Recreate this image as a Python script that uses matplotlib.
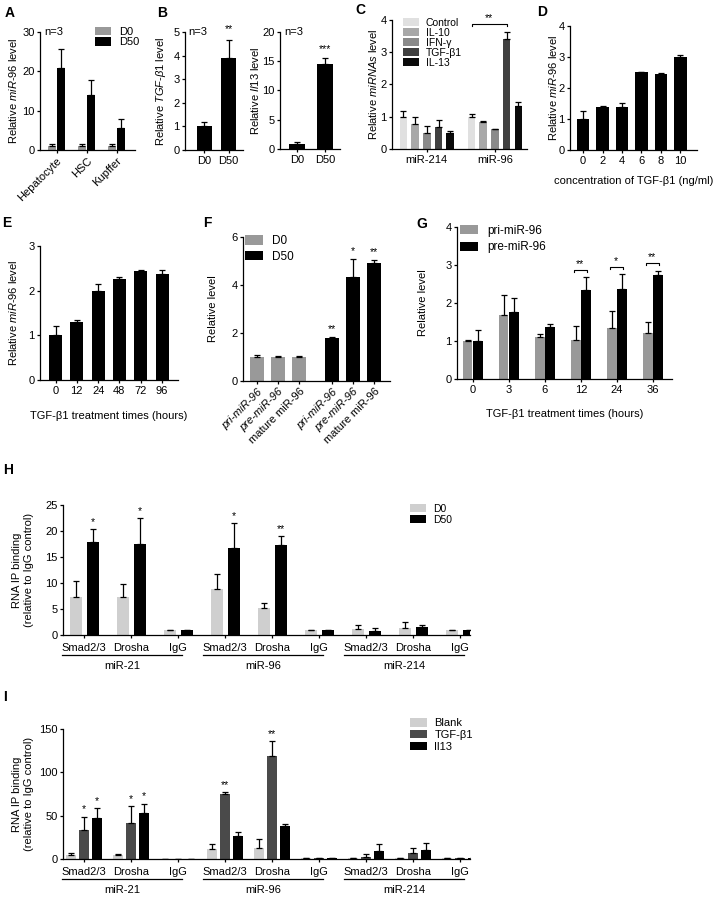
import numpy as np
import matplotlib
matplotlib.use("Agg")
import matplotlib.pyplot as plt
from matplotlib.transforms import blended_transform_factory

plt.rcParams['font.family'] = ['Liberation Sans', 'DejaVu Sans']
plt.rcParams['mathtext.fontset'] = 'custom'
plt.rcParams['mathtext.rm'] = 'Liberation Sans'
plt.rcParams['mathtext.it'] = 'Liberation Sans:italic'
plt.rcParams['font.size'] = 8
plt.rcParams['axes.linewidth'] = 0.9

W, H = 717, 897
LIGHT = '#cfcfcf'
MID = '#999999'
DARK = '#4a4a4a'

# ---- A: miR-96 in liver cell types ----
a_cells = ["Hepatocyte", "HSC", "Kupffer"]
a_d0 = [1.0, 1.0, 1.0]
a_d0_err = [0.5, 0.5, 0.4]
a_d50 = [20.8, 14.1, 5.6]
a_d50_err = [4.9, 3.8, 2.2]

# ---- B: TGF-b1 and Il13 ----
b_groups = ["D0", "D50"]
b_tgf = [1.0, 3.9]
b_tgf_err = [0.2, 0.75]
b_il13 = [0.9, 14.5]
b_il13_err = [0.35, 1.1]

# ---- C: cytokine treatment ----
c_groups = ["miR-214", "miR-96"]
c_treat = ["Control", "IL-10", "IFN-γ", "TGF-β1", "IL-13"]
c_control = [1.0, 1.0]
c_control_err = [0.17, 0.09]
c_il10 = [0.78, 0.85]
c_il10_err = [0.21, 0.02]
c_ifng = [0.49, 0.61]
c_ifng_err = [0.23, 0.02]
c_tgf = [0.68, 3.42]
c_tgf_err = [0.22, 0.22]
c_il13 = [0.5, 1.32]
c_il13_err = [0.05, 0.15]
c_colors = ['#e0e0e0', '#a8a8a8', '#8a8a8a', '#404040', '#0a0a0a']

# ---- D: TGF-b1 dose ----
d_conc = ["0", "2", "4", "6", "8", "10"]
d_vals = [1.0, 1.38, 1.4, 2.5, 2.45, 3.0]
d_err = [0.27, 0.03, 0.1, 0.03, 0.03, 0.07]

# ---- E: TGF-b1 time course ----
e_times = ["0", "12", "24", "48", "72", "96"]
e_vals = [1.0, 1.3, 2.0, 2.27, 2.45, 2.38]
e_err = [0.2, 0.05, 0.15, 0.03, 0.02, 0.09]

# ---- F: miR-96 forms ----
f_forms = ["pri-miR-96", "pre-miR-96", "mature miR-96"]
f_d0 = [1.0, 1.0, 1.0]
f_d0_err = [0.1, 0.03, 0.06]
f_d50 = [1.8, 4.35, 4.9]
f_d50_err = [0.04, 0.75, 0.16]
f_stars = ["**", "*", "**"]

# ---- G: pri/pre time course ----
g_times = ["0", "3", "6", "12", "24", "36"]
g_pri = [1.0, 1.68, 1.1, 1.03, 1.35, 1.22]
g_pri_err = [0.03, 0.52, 0.08, 0.36, 0.43, 0.27]
g_pre = [1.0, 1.75, 1.37, 2.33, 2.37, 2.73]
g_pre_err = [0.3, 0.38, 0.08, 0.35, 0.38, 0.12]
g_sig_idx = [3, 4, 5]
g_sig_h = [2.87, 2.95, 3.05]
g_sig = ["**", "*", "**"]

# ---- H / I: RNA IP ----
rip_ab = ["Smad2/3", "Drosha", "IgG"]
rip_mir = ["miR-21", "miR-96", "miR-214"]
h_d0 = [7.4, 7.4, 1.0, 8.8, 5.1, 1.0, 1.1, 1.35, 1.0]
h_d0_err = [2.9, 2.4, 0, 2.9, 1.1, 0, 0.8, 1.2, 0]
h_d50 = [17.8, 17.5, 1.0, 16.7, 17.4, 1.0, 0.8, 1.5, 1.0]
h_d50_err = [2.5, 5.0, 0, 4.9, 1.6, 0, 0.5, 0.4, 0]
h_stars = ["*", "*", "", "*", "**", "", "", "", ""]

i_blank = [5.0, 5.0, 0.5, 12.0, 13.0, 1.0, 0.8, 0.8, 0.8]
i_blank_err = [1.5, 1.0, 0, 5.0, 10.0, 0, 0, 0, 0]
i_tgf = [33.0, 41.0, 0.5, 75.0, 119.0, 1.0, 2.5, 7.0, 0.8]
i_tgf_err = [16.0, 20.0, 0, 2.5, 17.0, 0, 3.0, 6.0, 0]
i_il13 = [47.0, 53.0, 0.5, 26.0, 38.0, 1.0, 9.0, 10.0, 0.8]
i_il13_err = [12.0, 11.0, 0, 5.0, 2.0, 0, 8.0, 8.0, 0]
i_tgf_stars = ["*", "*", "", "**", "**", "", "", "", ""]
i_il13_stars = ["*", "*", "", "", "", "", "", "", ""]

fig = plt.figure(figsize=(W / 100, H / 100), dpi=100)


def add_ax(left, top, right, bottom):
    ax = fig.add_axes([left / W, 1 - bottom / H, (right - left) / W, (bottom - top) / H])
    ax.spines['top'].set_visible(False)
    ax.spines['right'].set_visible(False)
    ax.tick_params(direction='out', length=2.5, width=0.9, pad=1.5, labelsize=8)
    return ax


def err_bars(ax, x, vals, err, color, width, label=None):
    ax.bar(x, vals, width, color=color, label=label, zorder=2)
    ax.errorbar(x, vals, yerr=[np.zeros(len(vals)), err], fmt='none', ecolor='black',
                elinewidth=0.9, capsize=2.3, capthick=0.9, zorder=3)


def stars(ax, x, vals, err, marks, dy, fs=7.5):
    for xi, v, e, m in zip(x, vals, err, marks):
        if m:
            ax.text(xi, v + e + dy, m, ha='center', va='bottom', fontsize=fs, clip_on=False)


def fig_text(x, y, s, **kw):
    fig.text(x / W, 1 - y / H, s, **kw)


def ylabel_at(ax, s, xpx):
    ax.set_ylabel(s, fontsize=8)
    bb = ax.get_position()
    ax.yaxis.set_label_coords((xpx / W - bb.x0) / bb.width, 0.5)


def legend_at(ax, x, y, spacing, fs=8, hl=1.4, hh=0.8, pad=0.8):
    ax.legend(loc='upper left', bbox_to_anchor=(x / W, 1 - y / H), bbox_transform=fig.transFigure,
              frameon=False, borderpad=0, borderaxespad=0, handlelength=hl, handleheight=hh,
              handletextpad=pad, labelspacing=spacing, fontsize=fs)


# ---------------- A ----------------
ax = add_ax(40, 32, 135, 150)
xa = np.arange(len(a_cells))
err_bars(ax, xa - 0.15, a_d0, a_d0_err, MID, 0.27, 'D0')
err_bars(ax, xa + 0.15, a_d50, a_d50_err, 'black', 0.27, 'D50')
ax.set_xlim(-0.55, 2.6)
ax.set_ylim(0, 30)
ax.set_yticks([0, 10, 20, 30])
ax.set_xticks(xa)
ax.set_xticklabels(a_cells, rotation=45, ha='right', rotation_mode='anchor')
ylabel_at(ax, r'Relative $\mathit{miR}$-$\mathit{96}$ level', 19)
legend_at(ax, 95, 27, 0.0)
fig_text(44, 32, 'n=3', ha='left', va='center', fontsize=8)

# ---------------- B ----------------
ax = add_ax(185, 32, 243, 150)
xb = np.arange(len(b_groups))
err_bars(ax, xb, b_tgf, b_tgf_err, 'black', 0.62)
ax.set_xlim(-0.8, 1.6)
ax.set_ylim(0, 5)
ax.set_xticks(xb)
ax.set_xticklabels(b_groups)
ylabel_at(ax, r'Relative $\mathit{TGF}$-$\mathit{\beta 1}$ level', 168)
stars(ax, xb, b_tgf, b_tgf_err, ["", "**"], 0.25)
fig_text(188, 32, 'n=3', ha='left', va='center', fontsize=8)

ax = add_ax(280, 32, 340, 149)
err_bars(ax, xb, b_il13, b_il13_err, 'black', 0.55)
ax.set_xlim(-0.6, 1.53)
ax.set_ylim(0, 20)
ax.set_yticks([0, 5, 10, 15, 20])
ax.set_xticks(xb)
ax.set_xticklabels(b_groups)
ylabel_at(ax, r'Relative $\mathit{Il13}$ level', 261)
stars(ax, xb, b_il13, b_il13_err, ["", "***"], 0.6)
fig_text(284, 32, 'n=3', ha='left', va='center', fontsize=8)

# ---------------- C ----------------
ax = add_ax(392, 20, 527, 149)
xc = np.arange(len(c_groups))
c_series = [(c_control, c_control_err), (c_il10, c_il10_err), (c_ifng, c_ifng_err),
            (c_tgf, c_tgf_err), (c_il13, c_il13_err)]
for k, (vals, err) in enumerate(c_series):
    err_bars(ax, xc + (k - 2) * 0.172, vals, err, c_colors[k], 0.11, c_treat[k])
ax.set_xlim(-0.51, 1.47)
ax.set_ylim(0, 4)
ax.set_xticks(xc)
ax.set_xticklabels(c_groups)
ylabel_at(ax, r'Relative $\mathit{miRNAs}$ level', 379)
legend_at(ax, 403, 18, 0.0, fs=7.5, hl=1.5, hh=0.8, pad=0.7)
x0, x1 = 1 - 2 * 0.172, 1 + 0.172
ax.plot([x0, x0, x1, x1], [3.8, 3.87, 3.87, 3.8], color='black', lw=0.8, clip_on=False)
ax.text((x0 + x1) / 2, 3.9, '**', ha='center', va='bottom', fontsize=7.5)

# ---------------- D ----------------
ax = add_ax(570, 26, 697, 150)
xd = np.arange(len(d_conc))
err_bars(ax, xd, d_vals, d_err, 'black', 0.65)
ax.set_xlim(-0.67, 5.85)
ax.set_ylim(0, 4)
ax.set_xticks(xd)
ax.set_xticklabels(d_conc)
ylabel_at(ax, r'Relative $\mathit{miR}$-$\mathit{96}$ level', 559)
ax.set_xlabel('concentration of TGF-β1 (ng/ml)', fontsize=8)
ax.xaxis.set_label_coords(0.5, -0.21)

# ---------------- E ----------------
ax = add_ax(40, 246, 178, 380)
xe = np.arange(len(e_times))
err_bars(ax, xe, e_vals, e_err, 'black', 0.61)
ax.set_xlim(-0.73, 5.75)
ax.set_ylim(0, 3)
ax.set_yticks([0, 1, 2, 3])
ax.set_xticks(xe)
ax.set_xticklabels(e_times)
ylabel_at(ax, r'Relative $\mathit{miR}$-$\mathit{96}$ level', 19)
ax.set_xlabel('TGF-β1 treatment times (hours)', fontsize=8)
ax.xaxis.set_label_coords(0.5, -0.23)

# ---------------- F ----------------
ax = add_ax(243, 237, 390, 381)
xf0 = np.arange(3)
xf1 = np.arange(3) + 3.55
err_bars(ax, xf0, f_d0, f_d0_err, MID, 0.65, 'D0')
err_bars(ax, xf1, f_d50, f_d50_err, 'black', 0.65, 'D50')
stars(ax, xf1, f_d50, f_d50_err, f_stars, 0.12)
ax.set_xlim(-0.67, 6.3)
ax.set_ylim(0, 6)
ax.set_yticks([0, 2, 4, 6])
ax.set_xticks(np.concatenate([xf0, xf1]))
ax.set_xticklabels(f_forms + f_forms, rotation=45, ha='right', rotation_mode='anchor')
for k, lbl in enumerate(ax.get_xticklabels()):
    if k % 3 != 2:
        lbl.set_fontstyle('italic')
ylabel_at(ax, 'Relative level', 218)
legend_at(ax, 245, 235, 0.3, fs=8.5, hl=1.5, hh=0.85, pad=0.8)

# ---------------- G ----------------
ax = add_ax(457, 227, 672, 379)
xg = np.arange(len(g_times))
err_bars(ax, xg - 0.14, g_pri, g_pri_err, MID, 0.26, 'pri-miR-96')
err_bars(ax, xg + 0.14, g_pre, g_pre_err, 'black', 0.26, 'pre-miR-96')
for idx, h, m in zip(g_sig_idx, g_sig_h, g_sig):
    gx0, gx1 = idx - 0.2, idx + 0.16
    ax.plot([gx0, gx0, gx1, gx1], [h - 0.06, h, h, h - 0.06], color='black', lw=0.8)
    ax.text(idx - 0.02, h + 0.02, m, ha='center', va='bottom', fontsize=7.5)
ax.set_xlim(-0.44, 5.53)
ax.set_ylim(0, 4)
ax.set_xticks(xg)
ax.set_xticklabels(g_times)
ylabel_at(ax, 'Relative level', 428)
ax.set_xlabel('TGF-β1 treatment times (hours)', fontsize=8)
ax.xaxis.set_label_coords(0.5, -0.2)
legend_at(ax, 460, 225, 0.35, fs=8.5, hl=1.5, hh=0.8, pad=0.8)


# ---------------- H / I group labels ----------------
def rip_labels(ax):
    trans = blended_transform_factory(ax.transData, ax.transAxes)
    for g in range(3):
        for k in range(3):
            ax.text(g * 3 + k, -0.1, rip_ab[k], transform=trans, ha='center', va='center',
                    fontsize=8, clip_on=False)
        s, e = g * 3 - 0.47, g * 3 + 2.08
        ax.plot([s, e], [-0.155, -0.155], transform=trans, color='black', lw=0.9, clip_on=False)
        ax.text((s + e) / 2, -0.235, rip_mir[g], transform=trans, ha='center', va='center',
                fontsize=8, clip_on=False)


xh = np.arange(len(h_d0))

# ---------------- H ----------------
ax = add_ax(63, 505, 470, 635)
err_bars(ax, xh - 0.18, h_d0, h_d0_err, LIGHT, 0.255, 'D0')
err_bars(ax, xh + 0.18, h_d50, h_d50_err, 'black', 0.255, 'D50')
stars(ax, xh + 0.18, h_d50, h_d50_err, h_stars, 0.4)
ax.set_xlim(-0.45, 8.21)
ax.set_ylim(0, 25)
ax.set_yticks([0, 5, 10, 15, 20, 25])
ax.set_xticks(xh)
ax.set_xticklabels([])
ylabel_at(ax, 'RNA IP binding\n(relative to IgG control)', 34)
rip_labels(ax)
legend_at(ax, 410, 504, 0.05, fs=7.5, hl=1.5, hh=0.8, pad=0.7)

# ---------------- I ----------------
ax = add_ax(63, 729, 470, 859)
err_bars(ax, xh - 0.28, i_blank, i_blank_err, LIGHT, 0.21, 'Blank')
err_bars(ax, xh, i_tgf, i_tgf_err, DARK, 0.21, 'TGF-β1')
err_bars(ax, xh + 0.28, i_il13, i_il13_err, 'black', 0.21, 'Il13')
stars(ax, xh, i_tgf, i_tgf_err, i_tgf_stars, 2.5)
stars(ax, xh + 0.28, i_il13, i_il13_err, i_il13_stars, 2.5)
ax.set_xlim(-0.45, 8.21)
ax.set_ylim(0, 150)
ax.set_yticks([0, 50, 100, 150])
ax.set_xticks(xh)
ax.set_xticklabels([])
ylabel_at(ax, 'RNA IP binding\n(relative to IgG control)', 34)
rip_labels(ax)
legend_at(ax, 410, 718, 0.15, fs=8, hl=1.5, hh=0.8, pad=0.7)

# ---------------- panel letters ----------------
for letter, x, y in [('A', 5, 6), ('B', 157, 6), ('C', 355, 3), ('D', 537, 5),
                     ('E', 2, 216), ('F', 203, 216), ('G', 416, 217),
                     ('H', 3, 463), ('I', 3, 690)]:
    fig_text(x, y, letter, ha='left', va='top', fontsize=10, fontweight='bold')

fig.savefig('out.png', dpi=100)
